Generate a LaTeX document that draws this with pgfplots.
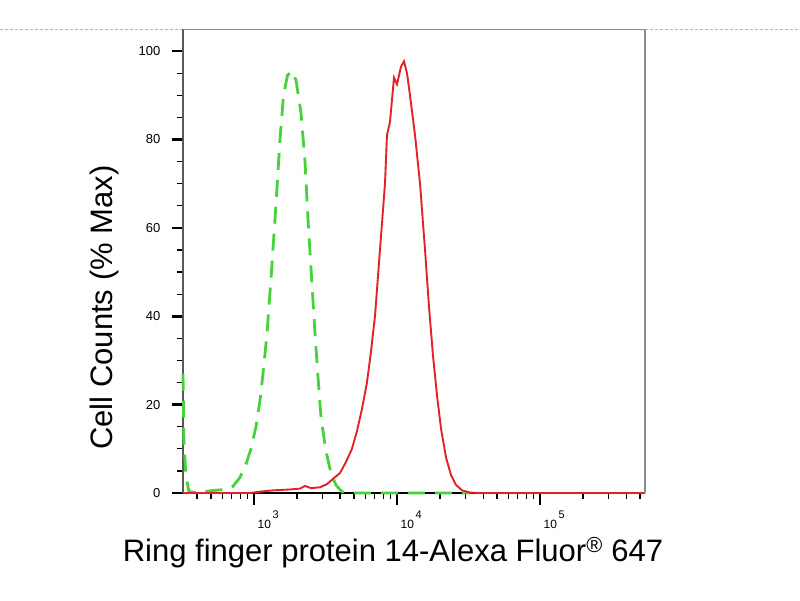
\documentclass[border=0pt]{standalone}
\usepackage{fontspec}
\setmainfont{Liberation Sans}
\usepackage{pgfplots}
\pgfplotsset{compat=1.18}
\definecolor{histred}{RGB}{228,32,40}
\definecolor{histgreen}{RGB}{70,210,60}
\newcommand{\decade}[1]{10\kern1.5pt\raisebox{9.5pt}{\fontsize{11}{12}\selectfont #1}}

\begin{document}
\begin{tikzpicture}
\path[use as bounding box] (-183pt,-107pt) rectangle (617pt,493pt);
\draw[black!30, dash pattern=on 3pt off 2pt] (-183pt,463.5pt) -- (617pt,463.5pt);
\begin{axis}[
    at={(0pt,0pt)}, anchor=south west,
    width=462pt, height=463.5pt, scale only axis,
    xmode=log, xmin=319, xmax=542000,
    ymin=0, ymax=104.9,
    clip=false,
    axis x line*=bottom, axis y line*=left,
    x axis line style={-, black, line width=1.4pt},
    y axis line style={-, black!65, line width=1.3pt},
    tick align=outside,
    major tick length=11.5pt, minor tick length=6pt,
    every major tick/.style={black, line width=2.6pt},
    every minor tick/.style={black, line width=1.2pt},
    xtick={1000,10000,100000},
    xticklabels={\decade{3},\decade{4},\decade{5}},
    minor xtick={400,500,600,700,800,900,2000,3000,4000,5000,6000,7000,8000,9000,
      20000,30000,40000,50000,60000,70000,80000,90000,200000,300000,400000,500000},
    ytick={0,20,40,60,80,100},
    minor ytick={5,10,15,25,30,35,45,50,55,65,70,75,85,90,95},
    every tick label/.append style={font=\large},
    /pgf/number format/assume math mode=true,
    xticklabel style={anchor=north west, inner sep=0pt, xshift=3.5pt, yshift=-6.5pt},
    yticklabel style={inner sep=0pt, xshift=-11pt, font=\fontsize{13}{15}\selectfont},
    xlabel={Ring finger protein 14-Alexa Fluor\textsuperscript{®} 647},
    ylabel={Cell Counts (\% Max)},
    label style={font=\fontsize{31}{35}\selectfont},
    xlabel style={at={(axis description cs:0.4545,-0.129)}, anchor=center},
    ylabel style={at={(axis description cs:-0.171,0.400)}, anchor=center},
]

% isotype control (dashed green)
\addplot[histgreen, line width=2.8pt, dash pattern=on 17pt off 10pt] coordinates {
(319,27) (323.6,12) (334,4) (351,0.3) (419,0) (492,0.5) (627,0.8) (713,1.5)
(798,3.5) (879,6.5) (953,10) (1033,15) (1102,21) (1156,27) (1233,36) (1325,50)
(1436,67) (1520,80) (1608,90) (1715,94.5) (1829,95.5) (1966,93.5) (2132,86)
(2274,75) (2405,60) (2547,47) (2673,36) (2806,26) (2945,17) (3187,9.5)
(3453,4.5) (3742,1.8) (4121,0.3) (4688,0) (32374,0)
};

% stained sample (solid red)
\addplot[histred, line width=1.9pt] coordinates {
(319,0) (938,0) (1102,0.3) (1358,0.6) (1786,0.8) (2099,1.0) (2274,1.6) (2505,1.1)
(2897,1.3) (3239,2.0) (3566,3.2) (3991,4.5) (4395,7) (4842,10) (5248,14)
(5689,19) (6166,25) (6577,32) (7015,40) (7603,55) (8241,70) (8511,81) (8935,84)
(9226,89) (9526,94) (10000,92.5) (10667,96.5) (11196,97.7) (11749,95) (12331,90)
(13366,81) (14488,70) (15704,55) (16750,42) (17867,31) (19059,22) (20330,14.5)
(22036,8) (23886,4) (25891,1.8) (28510,0.6) (32374,0.1) (38018,0) (542000,0)
};

\draw[black!45, line width=1.2pt] (rel axis cs:0,1) -- (rel axis cs:1,1) -- (rel axis cs:1,0);
\end{axis}
\end{tikzpicture}
\end{document}
